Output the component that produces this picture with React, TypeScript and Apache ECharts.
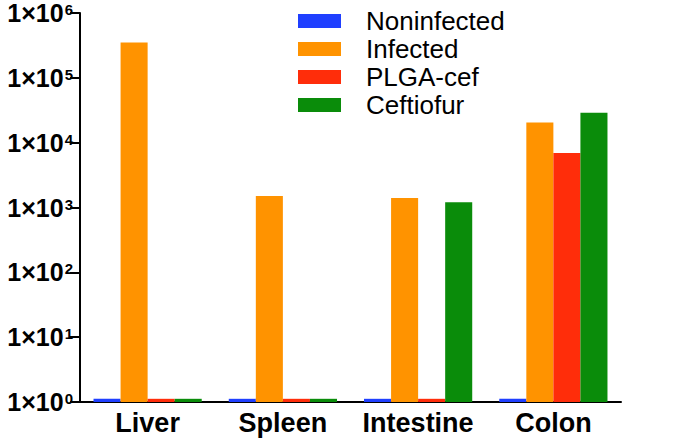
import React, { useEffect, useRef } from "react";
import * as echarts from "echarts";

const categories = ["Liver", "Spleen", "Intestine", "Colon"];
const seriesNames = ["Noninfected", "Infected", "PLGA-cef", "Ceftiofur"];
const noninfected = [1.12, 1.12, 1.12, 1.12];
const infected = [350000, 1500, 1400, 20500];
const plgaCef = [1.12, 1.12, 1.12, 6900];
const ceftiofur = [1.12, 1.12, 1200, 29000];
const colors = ["#1f3fff", "#ff9300", "#ff2d0a", "#0a8c0a"];

const FONT = "Liberation Sans, Arial, Helvetica, sans-serif";

export default function App() {
  const ref = useRef<HTMLDivElement>(null);
  useEffect(() => {
    if (!ref.current) return;
    const chart = echarts.init(ref.current, null, { renderer: "svg" });
    const data = [noninfected, infected, plgaCef, ceftiofur];
    chart.setOption({
      animation: false,
      textStyle: { fontFamily: FONT },
      grid: { left: 80, right: 54, top: 13, bottom: 38, containLabel: false },
      legend: {
        orient: "vertical",
        left: 293,
        top: 3,
        itemWidth: 43,
        itemHeight: 14,
        itemGap: 2,
        icon: "rect",
        textStyle: {
          fontFamily: FONT,
          fontSize: 26,
          lineHeight: 26,
          color: "#000",
          padding: [0, 0, 0, 20],
        },
        data: seriesNames,
      },
      xAxis: {
        type: "category",
        data: categories,
        axisLine: { lineStyle: { color: "#000", width: 2 } },
        axisTick: { alignWithLabel: true, length: 11, lineStyle: { color: "#000", width: 2 } },
        axisLabel: {
          interval: 0,
          fontFamily: FONT,
          fontWeight: "bold",
          fontSize: 27,
          lineHeight: 27,
          color: "#000",
          margin: 7,
        },
      },
      yAxis: {
        type: "log",
        logBase: 10,
        min: 1,
        max: 1000000,
        splitLine: { show: false },
        axisLine: { show: true, lineStyle: { color: "#000", width: 2 } },
        axisTick: { show: true, length: 10, lineStyle: { color: "#000", width: 2 } },
        axisLabel: {
          margin: 7,
          formatter: (v: number) => {
            const e = Math.round(Math.log10(v));
            return `{a|1×10}{b|${e}}`;
          },
          rich: {
            a: { fontFamily: FONT, fontWeight: "bold", fontSize: 25, color: "#000" },
            b: {
              fontFamily: FONT,
              fontWeight: "bold",
              fontSize: 15,
              color: "#000",
              padding: [0, 0, 7, 1],
            },
          },
        },
      },
      series: seriesNames.map((name, i) => ({
        name,
        type: "bar",
        data: data[i],
        barGap: "0%",
        barCategoryGap: "20%",
        itemStyle: { color: colors[i] },
      })),
    });
    return () => chart.dispose();
  }, []);
  return (
    <div
      ref={ref}
      style={{ position: "absolute", left: 0, top: 0, width: 675, height: 440 }}
    />
  );
}
